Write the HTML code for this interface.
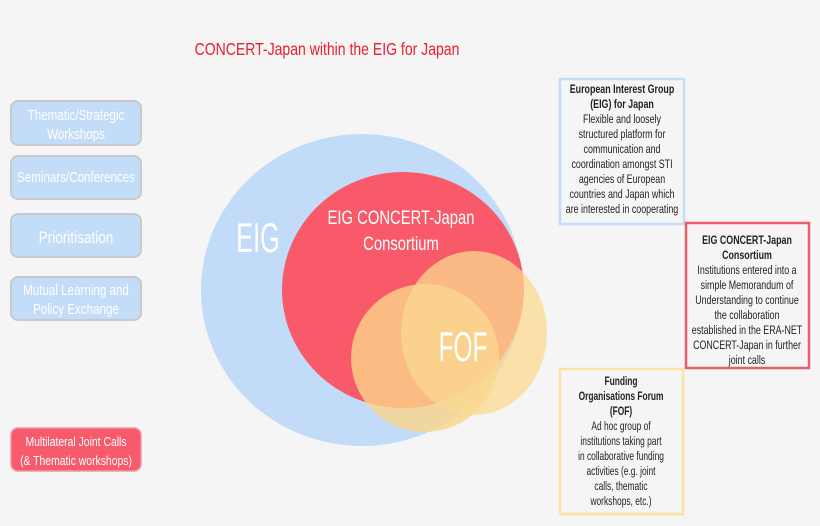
<!DOCTYPE html>
<html><head><meta charset="utf-8"><style>
html,body{margin:0;padding:0;background:#f5f5f5;}
svg{display:block}
text{font-family:"Liberation Sans",sans-serif;}
</style></head><body>
<svg width="820" height="526" viewBox="0 0 820 526">
<rect width="820" height="526" fill="#f5f5f5"/>
<g transform="translate(327 0) scale(0.78 1)"><text x="0" y="55" font-size="18" fill="#e8202f" text-anchor="middle">CONCERT-Japan within the EIG for Japan</text></g>

<g stroke="#c9c9c9" stroke-width="2" fill="#c3dcf8">
<rect x="11" y="101" width="130" height="44" rx="7"/>
<rect x="11" y="156" width="130" height="43" rx="7"/>
<rect x="11" y="214" width="130" height="43" rx="7"/>
<rect x="11" y="277" width="130" height="43" rx="7"/>
</g>
<rect x="11" y="428" width="130" height="43" rx="7" fill="#f65a6b" stroke="#e89aa3" stroke-width="1.5"/>
<g fill="#fff" font-size="14.5" text-anchor="middle" transform="translate(76 0) scale(0.8 1)">
<text x="0" y="120">Thematic/Strategic</text>
<text x="0" y="139">Workshops</text>
<text x="0" y="182">Seminars/Conferences</text>
<text x="0" y="243" font-size="17">Prioritisation</text>
<text x="0" y="295">Mutual Learning and</text>
<text x="0" y="314">Policy Exchange</text>
<text x="0" y="446" font-size="13">Multilateral Joint Calls</text>
<text x="0" y="465" font-size="13">(&amp; Thematic workshops)</text>
</g>

<ellipse cx="362" cy="290" rx="161" ry="156" fill="#c2dbf8"/>
<ellipse cx="403" cy="290" rx="121" ry="118" fill="#f95a6a"/>
<ellipse cx="425" cy="358" rx="74" ry="74" fill="#fbd48a" fill-opacity="0.8"/>
<ellipse cx="474" cy="333" rx="73" ry="82" fill="#fbd990" fill-opacity="0.75"/>
<g transform="translate(258 0) scale(0.6 1)"><text x="0" y="252" font-size="42" fill="#fff" text-anchor="middle">EIG</text></g>
<g transform="translate(401 0) scale(0.78 1)" fill="#fff" font-size="19" text-anchor="middle">
<text x="0" y="224">EIG CONCERT-Japan</text>
<text x="0" y="250">Consortium</text>
</g>
<g transform="translate(463 0) scale(0.58 1)"><text x="0" y="361" font-size="42" fill="#fff" text-anchor="middle">FOF</text></g>

<rect x="560" y="79" width="124" height="145" fill="none" stroke="#c5dcf7" stroke-width="2.5"/>
<rect x="686" y="223" width="123" height="145" fill="none" stroke="#e85d6c" stroke-width="2.5"/>
<rect x="560" y="369" width="123" height="145" fill="none" stroke="#fde3a2" stroke-width="2.5"/>

<g font-size="12" fill="#222" text-anchor="middle" transform="translate(622 0) scale(0.74 1)">
<text x="0" y="93" font-weight="bold">European Interest Group</text>
<text x="0" y="108" font-weight="bold">(EIG) for Japan</text>
<text x="0" y="123">Flexible and loosely</text>
<text x="0" y="138">structured platform for</text>
<text x="0" y="153">communication and</text>
<text x="0" y="168">coordination amongst STI</text>
<text x="0" y="183">agencies of European</text>
<text x="0" y="198">countries and Japan which</text>
<text x="0" y="213">are interested in cooperating</text>
</g>
<g font-size="12" fill="#222" text-anchor="middle" transform="translate(747 0) scale(0.74 1)">
<text x="0" y="244" font-weight="bold">EIG CONCERT-Japan</text>
<text x="0" y="259" font-weight="bold">Consortium</text>
<text x="0" y="274">Institutions entered into a</text>
<text x="0" y="289">simple Memorandum of</text>
<text x="0" y="304">Understanding to continue</text>
<text x="0" y="319">the collaboration</text>
<text x="0" y="334">established in the ERA-NET</text>
<text x="0" y="349">CONCERT-Japan in further</text>
<text x="0" y="364">joint calls</text>
</g>
<g font-size="12" fill="#222" text-anchor="middle" transform="translate(621 0) scale(0.7 1)">
<text x="0" y="385" font-weight="bold">Funding</text>
<text x="0" y="400" font-weight="bold">Organisations Forum</text>
<text x="0" y="415" font-weight="bold">(FOF)</text>
<text x="0" y="430">Ad hoc group of</text>
<text x="0" y="445">institutions taking part</text>
<text x="0" y="460">in collaborative funding</text>
<text x="0" y="475">activities (e.g. joint</text>
<text x="0" y="490">calls, thematic</text>
<text x="0" y="505">workshops, etc.)</text>
</g>
</svg>
</body></html>
